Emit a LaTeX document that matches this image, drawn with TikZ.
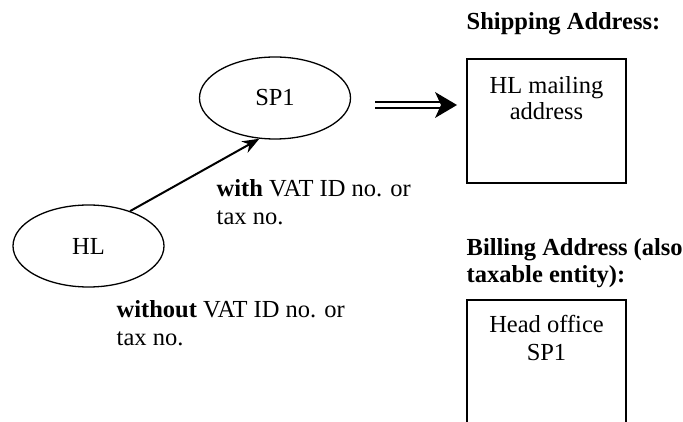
\documentclass[tikz,border=0pt]{standalone}
\usepackage{fontspec}
\setmainfont{Liberation Serif}
\usetikzlibrary{arrows.meta,shapes.geometric}
\begin{document}
\begin{tikzpicture}[x=1pt,y=-1pt,
  every node/.style={font=\fontsize{24.5}{28}\selectfont},
  oval/.style={draw,ellipse,line width=1.3pt,minimum width=151pt,minimum height=82pt,inner sep=0pt},
  txt/.style={inner sep=0pt,anchor=base west,align=left},
  boxtxt/.style={inner sep=0pt,anchor=base,align=center},
  frame/.style={line width=1.3pt}]
\useasboundingbox (0,0) rectangle (683,422);
\node[oval] (sp1) at (275,98) {SP1};
\node[oval] (hl) at (88.5,246) {HL};
\draw[line width=2pt,-{Stealth[length=17pt,width=13pt]}] (hl.40) -- (sp1.249);
\node[txt] (with) at (216.5,225) {\textbf{with} VAT ID no. or\\tax no.};
\node[txt] (without) at (116.5,345) {\textbf{without} VAT ID no. or\\tax no.};
\node[txt,font=\fontsize{24.5}{28}\selectfont\bfseries] (ship) at (466.5,30) {Shipping Address:};
\node[txt,font=\fontsize{24.5}{28}\selectfont\bfseries] (bill) at (466.5,283) {Billing Address (also\\taxable entity):};
\draw[frame] (467,59) rectangle (626,183);
\node[boxtxt,font=\fontsize{24.5}{26}\selectfont] (box1) at (546.5,120) {HL mailing\\address};
\draw[frame] (467,432) -- (467,300) -- (626,300) -- (626,432);
\node[boxtxt] (box2) at (546.5,360) {Head office\\SP1};
\coordinate (da) at (375,105);
\coordinate (db) at (440,105);
\coordinate (tip) at (457,105);
\draw[frame] ([yshift=-3pt]da) -- ([yshift=-3pt]db);
\draw[frame] ([yshift=3pt]da) -- ([yshift=3pt]db);
\fill (tip) -- (435,92) -- (441,105) -- (435,118) -- cycle;
\end{tikzpicture}
\end{document}
